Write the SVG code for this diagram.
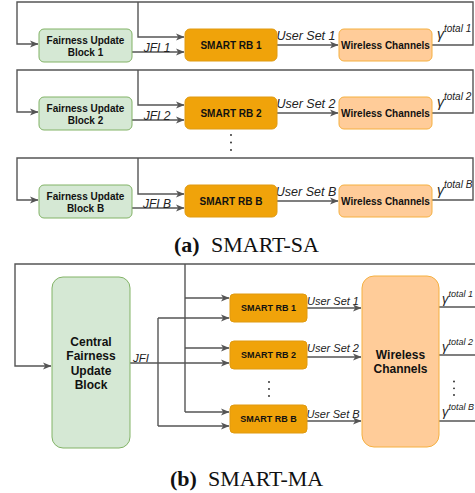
<svg xmlns="http://www.w3.org/2000/svg" width="475" height="493" viewBox="0 0 475 493">
<defs>
<marker id="arr" markerWidth="9" markerHeight="8" refX="8" refY="4" orient="auto" markerUnits="userSpaceOnUse">
<path d="M0,0.5 L8.5,4 L0,7.5 L2.2,4 Z" fill="#555"/>
</marker>
<style>
.c{fill:none;stroke:#555;stroke-width:1.4}
.a{marker-end:url(#arr)}
.g{fill:#d5e8d4;stroke:#82b366;stroke-width:1}
.o{fill:#f0a30a;stroke:#e09a10;stroke-width:1}
.w{fill:#ffcc99;stroke:#f5b041;stroke-width:1}
.t{font-family:"Liberation Sans",Arial,sans-serif;font-weight:bold;text-anchor:middle;fill:#111}
.i{font-family:"Liberation Sans",Arial,sans-serif;font-style:italic;fill:#222}
.cap{font-family:"Liberation Serif","Times New Roman",serif;font-size:22px;fill:#111}
.dot{fill:#222}
</style>
</defs>
<rect width="475" height="493" fill="#fff"/>

<g id="connectors">
<!-- (a) row 1 -->
<path class="c a" d="M432,45 H473 V2 H17 V44 H38"/>
<path class="c a" d="M138,2 V37 H184"/>
<path class="c a" d="M132,52 H184"/>
<path class="c a" d="M277,45 H338"/>
<!-- (a) row 2 -->
<path class="c a" d="M432,113 H473 V70 H17 V112 H38"/>
<path class="c a" d="M138,70 V105 H184"/>
<path class="c a" d="M132,120 H184"/>
<path class="c a" d="M277,113 H338"/>
<!-- (a) row B -->
<path class="c a" d="M432,200 H473 V158 H17 V200 H38"/>
<path class="c a" d="M138,158 V194 H184"/>
<path class="c a" d="M132,208 H184"/>
<path class="c a" d="M277,201 H338"/>
<!-- (b) -->
<path class="c a" d="M439,307 H485 V264 H15 V366 H51"/>
<path class="c" d="M439,355 H485"/>
<path class="c" d="M439,421 H485"/>
<path class="c" d="M185,264 V412"/>
<path class="c a" d="M185,298 H229"/>
<path class="c a" d="M185,348 H229"/>
<path class="c a" d="M185,412 H229"/>
<path class="c a" d="M130,363 H229"/>
<path class="c" d="M158,318 V426"/>
<path class="c a" d="M158,318 H229"/>
<path class="c a" d="M158,426 H229"/>
<path class="c a" d="M307,308 H361"/>
<path class="c a" d="M307,357 H361"/>
<path class="c a" d="M307,421 H361"/>
</g>

<g id="labels">
<text class="i" font-size="12" x="157" y="51.5" text-anchor="middle">JFI 1</text>
<text class="i" font-size="12" x="157" y="119.5" text-anchor="middle">JFI 2</text>
<text class="i" font-size="12" x="157" y="207.5" text-anchor="middle">JFI B</text>
<text class="i" font-size="12.5" x="306" y="40" text-anchor="middle">User Set 1</text>
<text class="i" font-size="12.5" x="306" y="108" text-anchor="middle">User Set 2</text>
<text class="i" font-size="12.5" x="306" y="196" text-anchor="middle">User Set B</text>
<text class="i" font-size="14" x="437" y="39">γ<tspan font-size="10" dy="-7">total 1</tspan></text>
<text class="i" font-size="14" x="437" y="107">γ<tspan font-size="10" dy="-7">total 2</tspan></text>
<text class="i" font-size="14" x="437" y="195">γ<tspan font-size="10" dy="-7">total B</tspan></text>
<text class="i" font-size="11.5" x="141" y="361.5" text-anchor="middle">JFI</text>
<text class="i" font-size="11" x="333" y="305" text-anchor="middle">User Set 1</text>
<text class="i" font-size="11" x="333" y="352" text-anchor="middle">User Set 2</text>
<text class="i" font-size="11" x="333" y="418" text-anchor="middle">User Set B</text>
<text class="i" font-size="13" x="442" y="303">γ<tspan font-size="9" dy="-6">total 1</tspan></text>
<text class="i" font-size="13" x="442" y="351">γ<tspan font-size="9" dy="-6">total 2</tspan></text>
<text class="i" font-size="13" x="442" y="416">γ<tspan font-size="9" dy="-6">total B</tspan></text>
<circle class="dot" cx="231" cy="135" r="0.9"/>
<circle class="dot" cx="231" cy="142.5" r="0.9"/>
<circle class="dot" cx="231" cy="150" r="0.9"/>
<circle class="dot" cx="269" cy="382" r="0.9"/>
<circle class="dot" cx="269" cy="389" r="0.9"/>
<circle class="dot" cx="269" cy="396" r="0.9"/>
<circle class="dot" cx="454" cy="381.5" r="0.9"/>
<circle class="dot" cx="454" cy="388.3" r="0.9"/>
<circle class="dot" cx="454" cy="395" r="0.9"/>
</g>

<g id="fair1"><rect class="g" x="39" y="29" width="93" height="33" rx="5"/><text class="t" font-size="10" x="85.5" y="44.3">Fairness Update</text><text class="t" font-size="10" x="85.5" y="56">Block 1</text></g>
<g id="fair2"><rect class="g" x="39" y="97" width="93" height="33" rx="5"/><text class="t" font-size="10" x="85.5" y="112.3">Fairness Update</text><text class="t" font-size="10" x="85.5" y="124">Block 2</text></g>
<g id="fairB"><rect class="g" x="39" y="185" width="93" height="33" rx="5"/><text class="t" font-size="10" x="85.5" y="200.3">Fairness Update</text><text class="t" font-size="10" x="85.5" y="212">Block B</text></g>

<g id="rb1a"><rect class="o" x="185" y="29" width="92" height="32" rx="5"/><text class="t" font-size="10" x="231" y="48.5">SMART RB 1</text></g>
<g id="rb2a"><rect class="o" x="185" y="97" width="92" height="32" rx="5"/><text class="t" font-size="10" x="231" y="116.5">SMART RB 2</text></g>
<g id="rbBa"><rect class="o" x="185" y="185" width="92" height="32" rx="5"/><text class="t" font-size="10" x="231" y="204.5">SMART RB B</text></g>

<g id="wc1"><rect class="w" x="339" y="29" width="93" height="32" rx="5"/><text class="t" font-size="10" x="385.5" y="48.5">Wireless Channels</text></g>
<g id="wc2"><rect class="w" x="339" y="97" width="93" height="32" rx="5"/><text class="t" font-size="10" x="385.5" y="116.5">Wireless Channels</text></g>
<g id="wcB"><rect class="w" x="339" y="185" width="93" height="32" rx="5"/><text class="t" font-size="10" x="385.5" y="204.5">Wireless Channels</text></g>

<g id="capA"><text class="cap" x="174" y="251.5" font-weight="bold">(a)</text><text class="cap" x="211" y="251.5">SMART-SA</text></g>

<g id="central"><rect class="g" x="52" y="277" width="78" height="171" rx="11"/>
<text class="t" font-size="12" x="91" y="345.5">Central</text>
<text class="t" font-size="12" x="91" y="360">Fairness</text>
<text class="t" font-size="12" x="91" y="374.5">Update</text>
<text class="t" font-size="12" x="91" y="389">Block</text></g>

<g id="rb1b"><rect class="o" x="230" y="294" width="77" height="28" rx="4"/><text class="t" font-size="9" x="268.5" y="311.2">SMART RB 1</text></g>
<g id="rb2b"><rect class="o" x="230" y="341" width="77" height="28" rx="4"/><text class="t" font-size="9" x="268.5" y="358.2">SMART RB 2</text></g>
<g id="rbBb"><rect class="o" x="230" y="405" width="77" height="28" rx="4"/><text class="t" font-size="9" x="268.5" y="422.2">SMART RB B</text></g>

<g id="wcb"><rect class="w" x="362" y="276" width="77" height="171" rx="12"/>
<text class="t" font-size="12" x="400.5" y="358.5">Wireless</text>
<text class="t" font-size="12" x="400.5" y="372.5">Channels</text></g>

<g id="capB"><text class="cap" x="170" y="486" font-weight="bold">(b)</text><text class="cap" x="208" y="486">SMART-MA</text></g>
</svg>
